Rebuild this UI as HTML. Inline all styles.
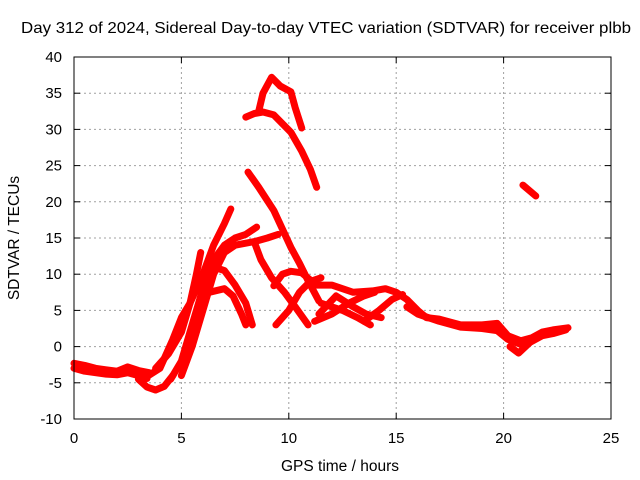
<!DOCTYPE html>
<html><head><meta charset="utf-8"><style>
body{margin:0;background:#fff;}
svg{display:block;font-family:"Liberation Sans",sans-serif;}
</style></head><body>
<svg id="chart" width="640" height="480" viewBox="0 0 640 480">
<text x="21" y="33" font-size="16" textLength="610" lengthAdjust="spacingAndGlyphs">Day 312 of 2024, Sidereal Day-to-day VTEC variation (SDTVAR) for receiver plbb</text>
<text transform="translate(19,238) rotate(-90)" font-size="15.5" text-anchor="middle">SDTVAR / TECUs</text>
<text x="340" y="471" font-size="15.5" text-anchor="middle">GPS time / hours</text>
<g id="grid"></g>
<g id="marks"></g>
<rect x="74" y="57" width="537" height="362" fill="none" stroke="#000" stroke-width="1"/>
<g id="axes"></g>
</svg>
<script>
const xTicks=[0,5,10,15,20,25];
const yTicks=[-10,-5,0,5,10,15,20,25,30,35,40];
const trackBase1=[[0,-2.3],[0.5,-2.6],[1,-3],[1.5,-3.2],[2,-3.4],[2.5,-2.8],[3,-3.3],[3.5,-3.6]];
const trackBase2=[[0,-3],[0.5,-3.4],[1,-3.6],[1.5,-3.8],[2,-3.9],[2.5,-3.6],[3,-4],[3.4,-4.4]];
const trackLow=[[3,-4.5],[3.4,-5.6],[3.8,-6],[4.2,-5.5],[4.6,-4]];
const trackA=[[3.2,-4.5],[4,-3],[4.6,1],[5,4],[5.4,6],[6,10],[6.5,14],[7,17],[7.3,19]];
const trackB=[[3.8,-3],[4.4,-1],[5,2],[5.4,6],[5.7,10],[5.9,13]];
const trackC=[[4.5,-4.5],[5,-2],[5.5,3],[6,8],[6.5,12],[7,14],[7.5,15],[8,15.5],[8.5,16.5]];
const trackD=[[5,-4],[5.5,0],[6,5],[6.5,10],[7,13],[7.5,14],[8.4,14.5],[9,15],[9.5,15.5]];
const trackE=[[6,9],[6.5,11],[7,10.5],[7.5,8.5],[8,6],[8.3,3]];
const trackF=[[6.3,7.5],[7,8],[7.4,7],[7.8,4.5],[8,3]];
const trackG=[[8.4,14.4],[8.7,12],[9.2,9.5],[9.8,7.5],[10.3,5.5],[10.9,3]];
const trackH=[[9.4,3],[10,5],[10.5,7.5],[11,9],[11.5,9.5]];
const trackI=[[9.3,8.4],[9.7,10],[10.1,10.4],[10.6,10.2],[11,9.2]];
const trackJ=[[8.1,24.1],[8.6,22],[9.3,18.8],[10.1,13.7],[10.5,11.5],[10.9,9.1],[11.4,6.3]];
const trackK=[[8,31.7],[8.4,32.2],[8.8,32.4],[9.3,32],[10.1,29.6],[10.6,27],[11,24.5],[11.3,22]];
const trackL=[[8.6,32.5],[8.8,35],[9.2,37.2],[9.6,36],[10.1,35.2],[10.3,33],[10.6,30.2]];
const trackM=[[20.9,22.3],[21.5,20.8]];
const trackN=[[11.3,8.5],[12,8.5],[13,7.5],[13.9,7.7],[14.5,8],[15,7.5],[15.5,6.5],[16,5],[16.4,4],[17,3.8],[18,3],[19,3],[19.7,3.2],[20.2,1.5],[20.8,0.8],[21.3,1.2],[21.8,2],[22.3,2.3],[23,2.6]];
const trackN2=[[15.5,5.5],[16,4.5],[17,3.5],[18,2.7],[19,2.5],[19.7,2.2],[20.2,1],[20.8,0.3],[21.3,0.7],[21.8,1.5],[22.3,1.8],[22.9,2.3]];
const trackO=[[11.2,3.5],[12,4.5],[12.8,6],[13.5,7],[14,7.5]];
const trackP=[[11.5,6],[12.5,5],[13.2,4],[13.8,3]];
const trackQ=[[13.5,3.5],[14.2,5],[14.8,6.5],[15.3,7.2]];
const trackR=[[11.4,4.5],[12.2,7],[13,5.5],[13.6,4.5],[14.3,4]];
const trackS=[[20.3,0],[20.7,-0.9],[21.2,0.5],[21.6,1.5]];
const tracks=[trackBase1,trackBase2,trackLow,trackA,trackB,trackC,trackD,trackE,trackF,trackG,trackH,trackI,trackJ,trackK,trackL,trackM,trackN,trackN2,trackO,trackP,trackQ,trackR,trackS];
const names=["base-1","base-2","low","a","b","c","d","e","f","g","h","i","j","k","l","m","n","n2","o","p","q","r","s"];
const X0=74,X1=611,Y0=419,Y1=57;
const sx=h=>X0+(h-0)/(25-0)*(X1-X0);
const sy=v=>Y0-(v+10)/(40+10)*(Y0-Y1);
const NS="http://www.w3.org/2000/svg";
const grid=document.getElementById('grid'),axes=document.getElementById('axes'),marks=document.getElementById('marks');
xTicks.forEach(t=>{
 const x=sx(t);
 if(t>0&&t<25){const l=document.createElementNS(NS,'line');
 
 
 l.setAttribute('x1',x);l.setAttribute('x2',x);l.setAttribute('y1',Y1);l.setAttribute('y2',Y0);
 l.setAttribute('stroke','#a0a0a0');l.setAttribute('stroke-dasharray','2,3');grid.appendChild(l);}
 [[Y0,Y0-6],[Y1,Y1+6]].forEach(p=>{const k=document.createElementNS(NS,'line');
 
 
 k.setAttribute('x1',x);k.setAttribute('x2',x);k.setAttribute('y1',p[0]);k.setAttribute('y2',p[1]);k.setAttribute('stroke','#000');axes.appendChild(k);});
 const tx=document.createElementNS(NS,'text');
 
 
 tx.setAttribute('x',x);tx.setAttribute('y',443);tx.setAttribute('font-size','15');tx.setAttribute('text-anchor','middle');tx.textContent=t;axes.appendChild(tx);
});
yTicks.forEach(t=>{
 const y=sy(t);
 if(t>-10&&t<40){const l=document.createElementNS(NS,'line');
 
 
 l.setAttribute('x1',X0);l.setAttribute('x2',X1);l.setAttribute('y1',y);l.setAttribute('y2',y);
 l.setAttribute('stroke','#a0a0a0');l.setAttribute('stroke-dasharray','2,3');grid.appendChild(l);}
 [[X0,X0+6],[X1,X1-6]].forEach(p=>{const k=document.createElementNS(NS,'line');
 
 
 k.setAttribute('x1',p[0]);k.setAttribute('x2',p[1]);k.setAttribute('y1',y);k.setAttribute('y2',y);k.setAttribute('stroke','#000');axes.appendChild(k);});
 const tx=document.createElementNS(NS,'text');
 
 
 tx.setAttribute('x',62);tx.setAttribute('y',y+5);tx.setAttribute('font-size','15');tx.setAttribute('text-anchor','end');tx.textContent=t;axes.appendChild(tx);
});
tracks.forEach((tr,i)=>{
 const p=document.createElementNS(NS,'polyline');
 
 
 p.setAttribute('points',tr.map(d=>sx(d[0]).toFixed(1)+','+sy(d[1]).toFixed(1)).join(' '));
 p.setAttribute('fill','none');p.setAttribute('stroke','#ff0000');p.setAttribute('stroke-width','7');
 p.setAttribute('stroke-linejoin','round');p.setAttribute('stroke-linecap','round');
 marks.appendChild(p);
});
</script>
</body></html>
